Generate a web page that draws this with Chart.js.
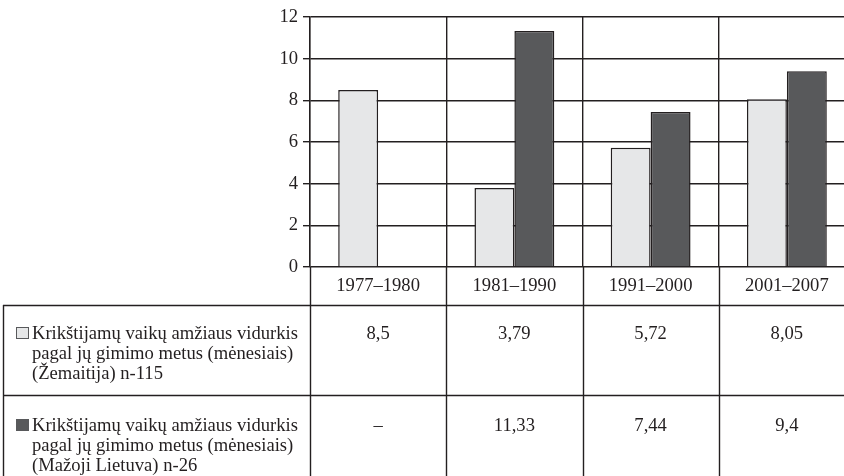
<!DOCTYPE html>
<html>
<head>
<title>Krikštijamų vaikų amžiaus vidurkis</title>
<script src="https://cdn.jsdelivr.net/npm/chart.js"></script>
<style>
  body { margin: 0; overflow: hidden; background: #fff; }
</style>
</head>
<body>
<canvas id="chart" width="856" height="476"></canvas>
<script>
// Duomenys
const periods = ['1977–1980', '1981–1990', '1991–2000', '2001–2007'];
const zemaitija = [8.5, 3.79, 5.72, 8.05];
const mazojiLietuva = [null, 11.33, 7.44, 9.4];
const zemaitijaLabel = ['Krikštijamų vaikų amžiaus vidurkis', 'pagal jų gimimo metus (mėnesiais)', '(Žemaitija) n-115'];
const mazojiLabel = ['Krikštijamų vaikų amžiaus vidurkis', 'pagal jų gimimo metus (mėnesiais)', '(Mažoji Lietuva) n-26'];

const ink = '#231f20';
const lightFill = '#e6e7e8';
const darkFill = '#58595b';
const font = { family: '"Liberation Serif", "DejaVu Serif", serif', size: 18.6 };

function fmt(v) {
    return v == null ? '–' : String(v).replace('.', ',');
}

// Lentelė po grafiku
const tablePlugin = {
    id: 'dataTable',
    afterDraw(chart) {
        const ctx = chart.ctx;
        const area = chart.chartArea;
        const H = chart.height;
        const n = periods.length;
        const colW = (area.right - area.left) / n;
        const rowTop = area.bottom + 38;
        const rowH = 90;
        const tableLeft = 3;

        ctx.save();
        ctx.strokeStyle = ink;
        ctx.lineWidth = 1.4;
        ctx.beginPath();
        for (let i = 0; i <= n; i++) {
            const bx = Math.round(area.left + i * colW) + 0.5;
            ctx.moveTo(bx, area.bottom);
            ctx.lineTo(bx, H);
        }
        for (let r = 0; r < 2; r++) {
            const y = Math.round(rowTop + r * rowH) + 0.5;
            ctx.moveTo(tableLeft, y);
            ctx.lineTo(area.right, y);
        }
        ctx.moveTo(tableLeft + 0.5, rowTop);
        ctx.lineTo(tableLeft + 0.5, H);
        ctx.stroke();

        const rows = [
            { lines: zemaitijaLabel, data: zemaitija, fill: lightFill, first: 34 },
            { lines: mazojiLabel, data: mazojiLietuva, fill: darkFill, first: 36 }
        ];
        ctx.font = font.size + 'px ' + font.family;
        ctx.textBaseline = 'alphabetic';
        rows.forEach((row, r) => {
            const top = rowTop + r * rowH;
            const base = top + row.first;
            ctx.fillStyle = row.fill;
            ctx.fillRect(16, base - 12, 13, 12);
            ctx.strokeStyle = '#58595b';
            ctx.lineWidth = 1;
            ctx.strokeRect(16.5, base - 11.5, 12, 11);
            ctx.fillStyle = ink;
            ctx.textAlign = 'left';
            row.lines.forEach((line, k) => {
                ctx.fillText(line, 32, base + k * 20);
            });
            ctx.textAlign = 'center';
            row.data.forEach((v, i) => {
                ctx.fillText(fmt(v), area.left + (i + 0.5) * colW, base);
            });
        });
        ctx.restore();
    }
};

new Chart(document.getElementById('chart'), {
    type: 'bar',
    data: {
        labels: periods,
        datasets: [{
            label: zemaitijaLabel.join(' '),
            data: zemaitija,
            backgroundColor: lightFill,
            borderColor: ink,
            borderWidth: 1.5
        }, {
            label: mazojiLabel.join(' '),
            data: mazojiLietuva,
            backgroundColor: darkFill,
            borderColor: ink,
            borderWidth: 1.5
        }]
    },
    options: {
        responsive: false,
        animation: false,
        layout: { padding: { top: 17, right: 1, left: 0, bottom: 0 } },
        categoryPercentage: 0.586,
        barPercentage: 1.0,
        plugins: {
            legend: { display: false },
            tooltip: { enabled: false }
        },
        scales: {
            x: {
                offset: true,
                grid: { offset: true, color: ink, lineWidth: 1.4, drawTicks: false },
                border: { display: false },
                ticks: { color: ink, font: font, padding: 8, maxRotation: 0 },
                afterFit(scale) { scale.height = 209; }
            },
            y: {
                min: 0,
                max: 12,
                ticks: { stepSize: 2, color: ink, font: font, padding: 5 },
                grid: { color: ink, lineWidth: 1.4, tickLength: 7 },
                border: { color: ink, width: 1.4 },
                afterFit(scale) { scale.width = 310; }
            }
        }
    },
    plugins: [tablePlugin]
});
</script>
</body>
</html>
